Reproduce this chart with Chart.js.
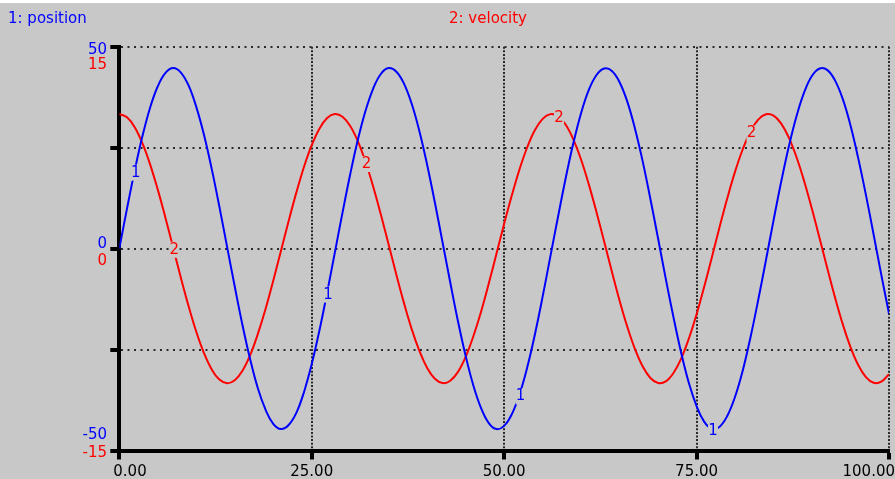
<!DOCTYPE html>
<html>
<head>
<meta charset="utf-8">
<script src="https://cdn.jsdelivr.net/npm/chart.js@4/dist/chart.umd.min.js"></script>
<style>
	html, body { margin: 0; padding: 0; background: #fff; }
	#chart { display: block; }
</style>
</head>
<body>
<canvas id="chart" width="895" height="479"></canvas>
<script>
/* time step of the run (one point per time unit) */
const dt = 1

/* 1: position */
const position = [
	0, 9.9, 19.3, 27.8, 34.9, 40.2, 43.5, 44.7, 43.6, 40.4,
	35.1, 28.2, 19.8, 10.4, 0.5, -9.4, -18.9, -27.4, -34.6, -39.9,
	-43.4, -44.7, -43.7, -40.7, -35.5, -28.6, -20.3, -10.9, -1.0, 8.9,
	18.4, 27.0, 34.2, 39.7, 43.3, 44.7, 43.8, 40.8, 35.8, 29.0,
	20.7, 11.4, 1.5, -8.4, -18.0, -26.6, -33.9, -39.5, -43.2, -44.7,
	-43.9, -41.0, -36.1, -29.4, -21.2, -11.9, -2.0, 7.9, 17.5, 26.2,
	33.6, 39.3, 43.0, 44.6, 44.0, 41.2, 36.4, 29.7, 21.6, 12.3,
	2.5, -7.5, -17.0, -25.8, -33.3, -39.0, -42.9, -44.6, -44.1, -41.4,
	-36.7, -30.2, -22.0, -12.8, -3.0, 7.0, 16.6, 25.4, 32.9, 38.8,
	42.8, 44.6, 44.2, 41.6, 37.0, 30.5, 22.4, 13.3, 3.5, -6.5,
	-16.1
]

/* 2: velocity */
const velocity = [
	10.0, 9.75, 9.02, 7.83, 6.26, 4.38, 2.28, 0.06, -2.17, -4.27,
	-6.18, -7.76, -8.97, -9.73, -10.0, -9.78, -9.07, -7.91, -6.34, -4.49,
	-2.39, -0.17, 2.05, 4.16, 6.08, 7.68, 8.91, 9.70, 10.0, 9.80,
	9.11, 7.97, 6.43, 4.58, 2.49, 0.28, -1.95, -4.07, -6.00, -7.61,
	-8.87, -9.67, -9.99, -9.82, -9.16, -8.04, -6.51, -4.69, -2.60, -0.39,
	1.84, 3.96, 5.90, 7.53, 8.81, 9.64, 9.99, 9.84, 9.20, 8.10,
	6.60, 4.77, 2.70, 0.50, -1.72, -3.87, -5.81, -7.47, -8.76, -9.61,
	-9.98, -9.86, -9.24, -8.17, -6.68, -4.88, -2.81, -0.62, 1.63, 3.76,
	5.72, 7.38, 8.70, 9.58, 9.98, 9.88, 9.29, 8.23, 6.77, 4.97,
	2.92, 0.73, -1.50, -3.66, -5.63, -7.32, -8.65, -9.55, -9.97, -9.89,
	-9.33
]

const seriesNames = ['1: position', '2: velocity']
const curveTags = ['1', '2']
/* times where the curve number is printed on the line */
const positionTagAt = [2, 27, 52, 77]
const velocityTagAt = [7, 32, 57, 82]

const xTicks = [0, 25, 50, 75, 100]
const xTickLabels = ['0.00', '25.00', '50.00', '75.00', '100.00']
const positionTicks = [50, 0, -50]
const velocityTicks = [15, 0, -15]

const GRAY = '#c8c8c8'
const BLUE = '#0000ff'
const RED = '#ff0000'
const FONT = '15px "DejaVu Sans"'

const toPoints = (arr) => arr.map((v, i) => ({ x: i * dt, y: v }))

const background = {
	id: 'background',
	beforeDraw(chart) {
		const ctx = chart.ctx
		ctx.save()
		ctx.fillStyle = '#fff'
		ctx.fillRect(0, 0, chart.width, chart.height)
		ctx.fillStyle = GRAY
		ctx.fillRect(0, 3, chart.width, chart.height - 3)
		ctx.restore()
	}
}

// curve numbers sit in a small gap cut out of the line
const curveTagsPlugin = {
	id: 'curveTags',
	afterDatasetsDraw(chart) {
		const ctx = chart.ctx
		ctx.save()
		ctx.font = FONT
		ctx.textAlign = 'center'
		ctx.textBaseline = 'middle'
		const draw = (dsIndex, times, color) => {
			const meta = chart.getDatasetMeta(dsIndex)
			times.forEach((t) => {
				const pt = meta.data[Math.round(t / dt)]
				const x = pt.x + 1
				const y = pt.y + 2
				ctx.fillStyle = GRAY
				ctx.fillRect(x - 5, y - 8, 10, 16)
				ctx.fillStyle = color
				ctx.fillText(curveTags[dsIndex], x, y)
			})
		}
		draw(0, positionTagAt, BLUE)
		draw(1, velocityTagAt, RED)
		ctx.restore()
	}
}

const axisText = {
	id: 'axisText',
	afterDraw(chart) {
		const ctx = chart.ctx
		const { x, y, y1 } = chart.scales
		ctx.save()
		ctx.font = FONT
		ctx.textBaseline = 'alphabetic'

		// series names on top
		ctx.textAlign = 'left'
		ctx.fillStyle = BLUE
		ctx.fillText(seriesNames[0], 8, 23)
		ctx.fillStyle = RED
		ctx.fillText(seriesNames[1], 449, 23)

		// paired y labels, blue above red
		ctx.textAlign = 'right'
		positionTicks.forEach((v) => {
			const py = y.getPixelForValue(v)
			ctx.fillStyle = BLUE
			ctx.fillText(String(v), 107, py + (v > 0 ? 7 : v < 0 ? -12 : -1))
		})
		velocityTicks.forEach((v) => {
			const py = y1.getPixelForValue(v)
			ctx.fillStyle = RED
			ctx.fillText(String(v), 107, py + (v > 0 ? 22 : v < 0 ? 6 : 16))
		})

		// x labels
		ctx.fillStyle = '#000'
		xTicks.forEach((v, i) => {
			const px = x.getPixelForValue(v)
			if (i === 0) {
				ctx.textAlign = 'left'
				ctx.fillText(xTickLabels[i], px - 6, 476)
			} else if (i === xTicks.length - 1) {
				ctx.textAlign = 'right'
				ctx.fillText(xTickLabels[i], chart.width, 476)
			} else {
				ctx.textAlign = 'center'
				ctx.fillText(xTickLabels[i], px, 476)
			}
		})
		ctx.restore()
	}
}

new Chart(document.getElementById('chart'), {
	type: 'line',
	data: {
		datasets: [
			{
				label: seriesNames[0],
				data: toPoints(position),
				borderColor: BLUE,
				borderWidth: 2,
				tension: 0.4,
				yAxisID: 'y'
			},
			{
				label: seriesNames[1],
				data: toPoints(velocity),
				borderColor: RED,
				borderWidth: 2,
				tension: 0.4,
				yAxisID: 'y1'
			}
		]
	},
	options: {
		responsive: false,
		animation: false,
		events: [],
		layout: { padding: { top: 46.7, right: 6, left: 0, bottom: 0 } },
		elements: { point: { radius: 0 } },
		plugins: {
			legend: { display: false },
			tooltip: { enabled: false }
		},
		scales: {
			x: {
				type: 'linear',
				min: 0,
				max: 100,
				afterBuildTicks: (scale) => { scale.ticks = xTicks.map((v) => ({ value: v })) },
				ticks: { display: false },
				grid: { color: '#2a2a2a', lineWidth: 2, tickLength: 9, tickWidth: 4, tickColor: '#000' },
				border: { display: true, color: '#000', width: 4, dash: [2, 1.6] },
				afterFit: (scale) => { scale.height = 28.5 }
			},
			y: {
				position: 'left',
				min: -50,
				max: 50,
				ticks: { display: false, stepSize: 25 },
				grid: { color: '#2a2a2a', lineWidth: 2, tickLength: 9, tickWidth: 4, tickColor: '#000' },
				border: { display: true, color: '#000', width: 4, dash: [2, 4.5] },
				afterFit: (scale) => { scale.width = 119.3 }
			},
			y1: {
				position: 'left',
				min: -15,
				max: 15,
				display: false
			}
		}
	},
	plugins: [background, curveTagsPlugin, axisText]
})
</script>
</body>
</html>
